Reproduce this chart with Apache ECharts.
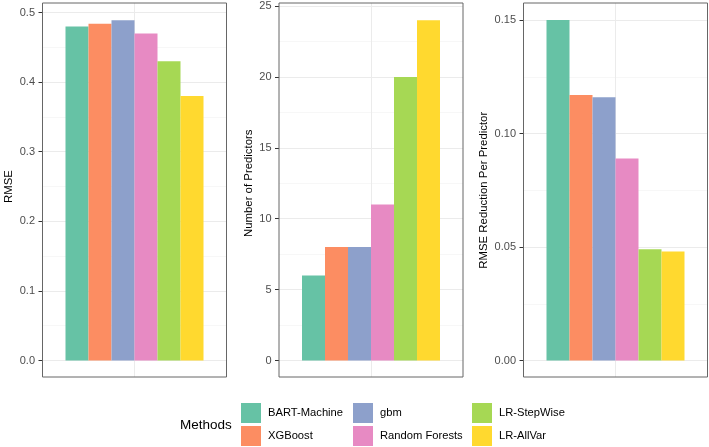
<!DOCTYPE html>
<html>
<head>
<meta charset="utf-8">
<script src="https://cdn.jsdelivr.net/npm/echarts@6/dist/echarts.min.js"></script>
<style>
  html, body { margin: 0; padding: 0; background: #fff; }
  #chart { width: 709px; height: 447px; }
</style>
</head>
<body>
<div id="chart"></div>
<script>
// ---- data ----
const methods = ['BART-Machine', 'XGBoost', 'gbm', 'Random Forests', 'LR-StepWise', 'LR-AllVar'];
const rmse = [0.480, 0.484, 0.489, 0.470, 0.430, 0.380];
const numPredictors = [6, 8, 8, 11, 20, 24];
const rmseReduction = [0.150, 0.117, 0.116, 0.089, 0.049, 0.048];
const yTitles = ['RMSE', 'Number of Predictors', 'RMSE Reduction Per Predictor'];
const yMax = [0.5, 25, 0.15];
const yInterval = [0.1, 5, 0.05];
const yDecimals = [1, 0, 2];
const legendTitle = 'Methods';

// ---- styles ----
const palette = ['#66C2A5', '#FC8D62', '#8DA0CB', '#E78AC3', '#A6D854', '#FFD92F'];
const FONT = '"Liberation Sans", Arial, Helvetica, sans-serif';
const panelLeft = [42.5, 279, 523.5];
const panelWidth = 184;
const outerTop = 3, outerHeight = 374;
const innerTop = [12.5, 6, 20];
const zeroY = 360.5;
const nameGaps = [28, 24.5, 34];

const values = [rmse, numPredictors, rmseReduction];

const grid = [], xAxis = [], yAxis = [], series = [];
for (let p = 0; p < 3; p++) {
  // outer panel (border + vertical center grid line)
  grid.push({ left: panelLeft[p], width: panelWidth, top: outerTop, height: outerHeight,
    show: true, borderColor: '#666', borderWidth: 1, backgroundColor: 'transparent', z: 3 });
  // inner plotting area (data range 0..max)
  grid.push({ left: panelLeft[p], width: panelWidth, top: innerTop[p], height: zeroY - innerTop[p], show: false });

  xAxis.push({ type: 'value', gridIndex: 2 * p, min: -0.6, max: 0.6, interval: 0.6,
    axisLine: { show: false }, axisTick: { show: false }, axisLabel: { show: false },
    splitLine: { show: true, showMinLine: false, showMaxLine: false,
      lineStyle: { color: '#EBEBEB', width: 1 } } });
  xAxis.push({ type: 'category', gridIndex: 2 * p + 1, data: ['all'], show: false });

  yAxis.push({ type: 'value', gridIndex: 2 * p, min: 0, max: 1, show: false });
  yAxis.push({ type: 'value', gridIndex: 2 * p + 1, min: 0, max: yMax[p], interval: yInterval[p],
    name: yTitles[p], nameLocation: 'middle', nameGap: nameGaps[p],
    nameTextStyle: { color: '#000', fontSize: 11.4, fontFamily: FONT },
    axisLine: { show: false },
    axisTick: { show: true, length: 4, lineStyle: { color: '#333', width: 1 } },
    axisLabel: { color: '#4D4D4D', fontSize: 11, fontFamily: FONT, margin: 7.5,
      formatter: (v) => v.toFixed(yDecimals[p]) },
    splitLine: { show: true, lineStyle: { color: '#EBEBEB', width: 1 } },
    minorTick: { show: false, splitNumber: 2 },
    minorSplitLine: { show: true, lineStyle: { color: '#F2F2F2', width: 0.6 } } });

  methods.forEach((m, i) => {
    series.push({ type: 'bar', name: m, xAxisIndex: 2 * p + 1, yAxisIndex: 2 * p + 1,
      data: [values[p][i]], barGap: '0%', barCategoryGap: '25%',
      itemStyle: { color: palette[i] }, emphasis: { disabled: true }, silent: true });
  });
}

const legendLefts = [241, 353, 472];
const legend = [0, 1, 2].map(c => ({
  orient: 'vertical', left: legendLefts[c], top: 403, padding: 0,
  itemWidth: 20, itemHeight: 20, itemGap: 3, icon: 'rect', selectedMode: false,
  data: methods.slice(2 * c, 2 * c + 2),
  textStyle: { color: '#000', fontSize: 11.2, fontFamily: FONT, padding: [0, 0, 0, 2] }
}));

const chart = echarts.init(document.getElementById('chart'), null, { renderer: 'canvas' });
chart.setOption({
  animation: false,
  backgroundColor: '#fff',
  textStyle: { fontFamily: FONT },
  title: { text: legendTitle, left: 180, top: 418, padding: 0,
    textStyle: { fontSize: 13.5, fontWeight: 'normal', color: '#000', fontFamily: FONT } },
  grid, xAxis, yAxis, legend, series
});
</script>
</body>
</html>
